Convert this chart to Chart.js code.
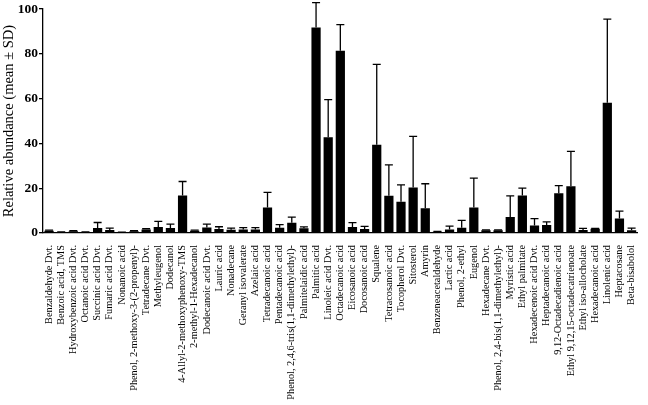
<!DOCTYPE html>
<html>
<head>
<meta charset="utf-8">
<script src="https://cdn.jsdelivr.net/npm/chart.js@4"></script>
<style>
  body { margin:0; background:#fff; }
  #wrap { width:648px; height:405px; }
</style>
</head>
<body>
<div id="wrap"><canvas id="chart" width="648" height="405"></canvas></div>
<script>
const compounds = [
  "Benzaldehyde Dvt.", "Benzoic acid, TMS", "Hydroxybenzoic acid Dvt.", "Octanoic acid Dvt.",
  "Succinic acid Dvt.", "Fumaric acid Dvt.", "Nonanoic acid", "Phenol, 2-methoxy-3-(2-propenyl)-",
  "Tetradecane Dvt.", "Methyleugenol", "Dodecanol", "4-Allyl-2-methoxyphenoxy-TMS",
  "2-methyl-1-Hexadecanol", "Dodecanoic acid Dvt.", "Lauric acid", "Nonadecane",
  "Geranyl isovalerate", "Azelaic acid", "Tetradecanoic acid", "Pentadecanoic acid",
  "Phenol, 2,4,6-tris(1,1-dimethylethyl)-", "Palmitelaidic acid", "Palmitic acid", "Linoleic acid Dvt.",
  "Octadecanoic acid", "Eicosanoic acid", "Docosanoic acid", "Squalene",
  "Tetracosanoic acid", "Tocopherol Dvt.", "Sitosterol", "Amyrin",
  "Benzeneacetaldehyde", "Lactic acid", "Phenol, 2-ethyl", "Eugenol",
  "Hexadecane Dvt.", "Phenol, 2,4-bis(1,1-dimethylethyl)-", "Myristic acid", "Ethyl palmitate",
  "Hexadecenoic acid Dvt.", "Heptadecanoic acid", "9,12-Octadecadienoic acid", "Ethyl 9,12,15-octadecatrienoate",
  "Ethyl iso-allocholate", "Hexadecanoic acid", "Linolenic acid", "Heptacosane",
  "Beta-bisabolol"
];

// mean relative abundance
const means = [
  1.0, 0.4, 0.8, 0.4,
  2.2, 1.3, 0.3, 0.8,
  1.6, 2.7, 2.2, 16.8,
  1.0, 2.5, 1.8, 1.5,
  1.6, 1.6, 11.4, 2.4,
  4.6, 2.1, 91.8, 42.8,
  81.4, 2.7, 1.8, 39.4,
  16.6, 14.0, 20.3, 11.1,
  0.6, 1.6, 2.4, 11.4,
  1.2, 1.2, 7.1, 16.8,
  3.3, 3.6, 17.7, 20.9,
  1.3, 1.9, 58.2, 6.5,
  1.2
];

// standard deviation
const sds = [
  0.3, 0.1, 0.2, 0.1,
  2.5, 0.9, 0.1, 0.2,
  0.3, 2.5, 1.8, 6.2,
  0.3, 1.5, 1.0, 0.7,
  0.8, 0.8, 6.7, 1.3,
  2.5, 0.6, 11.1, 16.8,
  11.7, 1.9, 1.2, 35.9,
  13.8, 7.5, 22.9, 10.9,
  0.1, 1.5, 3.2, 13.1,
  0.2, 0.2, 9.5, 3.2,
  3.1, 1.4, 3.5, 15.6,
  0.8, 0.2, 37.3, 3.3,
  1.0
];

const yTicks = [0, 20, 40, 60, 80, 100];

const serif = "'Liberation Serif', 'DejaVu Serif', serif";

// error bars (upper only) drawn from the y scale
const errorBars = {
  id: "errorBars",
  afterDatasetsDraw(c) {
    const ctx = c.ctx;
    const y = c.scales.y;
    const meta = c.getDatasetMeta(0);
    ctx.save();
    ctx.strokeStyle = "#000";
    ctx.lineWidth = 1.3;
    meta.data.forEach((bar, i) => {
      const top = y.getPixelForValue(means[i] + sds[i]);
      const base = y.getPixelForValue(means[i]);
      ctx.beginPath();
      ctx.moveTo(bar.x, base);
      ctx.lineTo(bar.x, top);
      ctx.moveTo(bar.x - 4, top);
      ctx.lineTo(bar.x + 4, top);
      ctx.stroke();
    });
    ctx.restore();
  }
};

chart = new Chart(document.getElementById("chart"), {
  type: "bar",
  data: {
    labels: compounds,
    datasets: [{
      data: means,
      backgroundColor: "#000",
      borderWidth: 0,
      barPercentage: 0.76,
      categoryPercentage: 1
    }]
  },
  options: {
    responsive: false,
    animation: false,
    layout: { padding: { top: 5, right: 5, left: 0, bottom: 0 } },
    plugins: { legend: { display: false }, tooltip: { enabled: false } },
    scales: {
      x: {
        grid: { display: false },
        border: { display: true, color: "#000", width: 1.3 },
        ticks: {
          autoSkip: false,
          minRotation: 90,
          maxRotation: 90,
          padding: 4,
          color: "#000",
          font: { family: serif, size: 10.3 }
        },
        afterFit(s) { s.height = 172; }
      },
      y: {
        min: 0,
        max: 100,
        afterBuildTicks(s) { s.ticks = yTicks.map(v => ({ value: v })); },
        grid: { display: true, drawOnChartArea: false, drawTicks: true, tickLength: 4, color: "#000", lineWidth: 1.3 },
        border: { display: true, color: "#000", width: 1.3 },
        ticks: {
          padding: 1,
          color: "#000",
          font: { family: serif, size: 13.5, weight: "bold" }
        },
        title: {
          display: true,
          text: "Relative abundance (mean ± SD)",
          color: "#000",
          padding: { top: 0, bottom: 0 },
          font: { family: serif, size: 14.5 }
        },
        afterFit(s) { s.width = 43; }
      }
    }
  },
  plugins: [errorBars]
});
</script>
</body>
</html>
